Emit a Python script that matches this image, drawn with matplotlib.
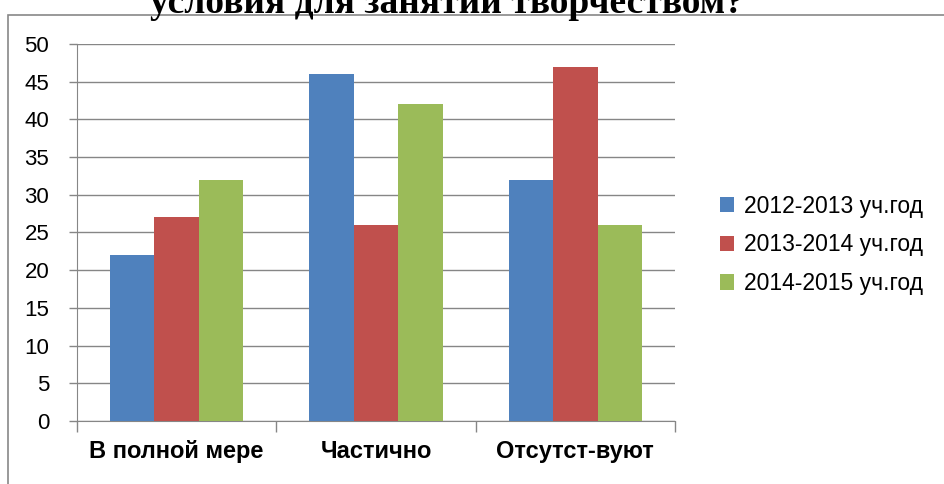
import numpy as np
import matplotlib
matplotlib.use("Agg")
import matplotlib.pyplot as plt
from matplotlib.patches import Rectangle

# data
categories = ["В полной мере", "Частично", "Отсутст-вуют"]
series_names = ["2012-2013 уч.год", "2013-2014 уч.год", "2014-2015 уч.год"]
vals_2012 = [22, 46, 32]
vals_2013 = [27, 26, 47]
vals_2014 = [32, 42, 26]
colors = ["#4F81BD", "#C0504D", "#9BBB59"]
title = "условия для занятий творчеством?"

plt.rcParams['font.family'] = ['Liberation Sans', 'DejaVu Sans']

fig = plt.figure(figsize=(9.45, 4.84), dpi=100)
ax = fig.add_axes([77/945, 63/484, 598/945, 377/484])

# outer frame of chart area (bottom and right edges run off the picture)
fig.patches.append(Rectangle((8/945, -0.05), 1.0, 1.05 - 15/484, transform=fig.transFigure,
                             fill=False, edgecolor='#888888', linewidth=1.2))

x = np.arange(len(categories))
w = 0.223
for i, vals in enumerate([vals_2012, vals_2013, vals_2014]):
    ax.bar(x + (i - 1) * w, vals, width=w, color=colors[i], label=series_names[i], zorder=3)

ax.set_xlim(-0.5, 2.5)
ax.set_ylim(0, 50)
ax.set_yticks(range(0, 51, 5))
ax.yaxis.grid(True, color='#868686', linewidth=1, zorder=0)
ax.set_xticks(x)
ax.set_xticklabels(categories, fontweight='bold', fontsize=17)
ax.set_xticks([-0.5, 0.5, 1.5, 2.5], minor=True)
ax.tick_params(axis='x', which='major', length=0, pad=14)
ax.tick_params(axis='x', which='minor', length=8, color='#868686', width=1)
ax.tick_params(axis='y', length=6, color='#868686', width=1, labelsize=16, pad=14)
for s in ['top', 'right']:
    ax.spines[s].set_visible(False)
ax.spines['left'].set_color('#868686')
ax.spines['bottom'].set_color('#868686')

ax.legend(loc='center left', bbox_to_anchor=(1.04, 0.467), frameon=False, fontsize=16.5,
          handlelength=0.65, handleheight=0.65, labelspacing=0.68, handletextpad=0.4)

fig.text(447/945, 1 - 13/484, title, ha='center', va='baseline', fontsize=27,
         fontweight='bold', family=['Liberation Serif', 'DejaVu Serif'])

fig.savefig("out.png", dpi=100)
